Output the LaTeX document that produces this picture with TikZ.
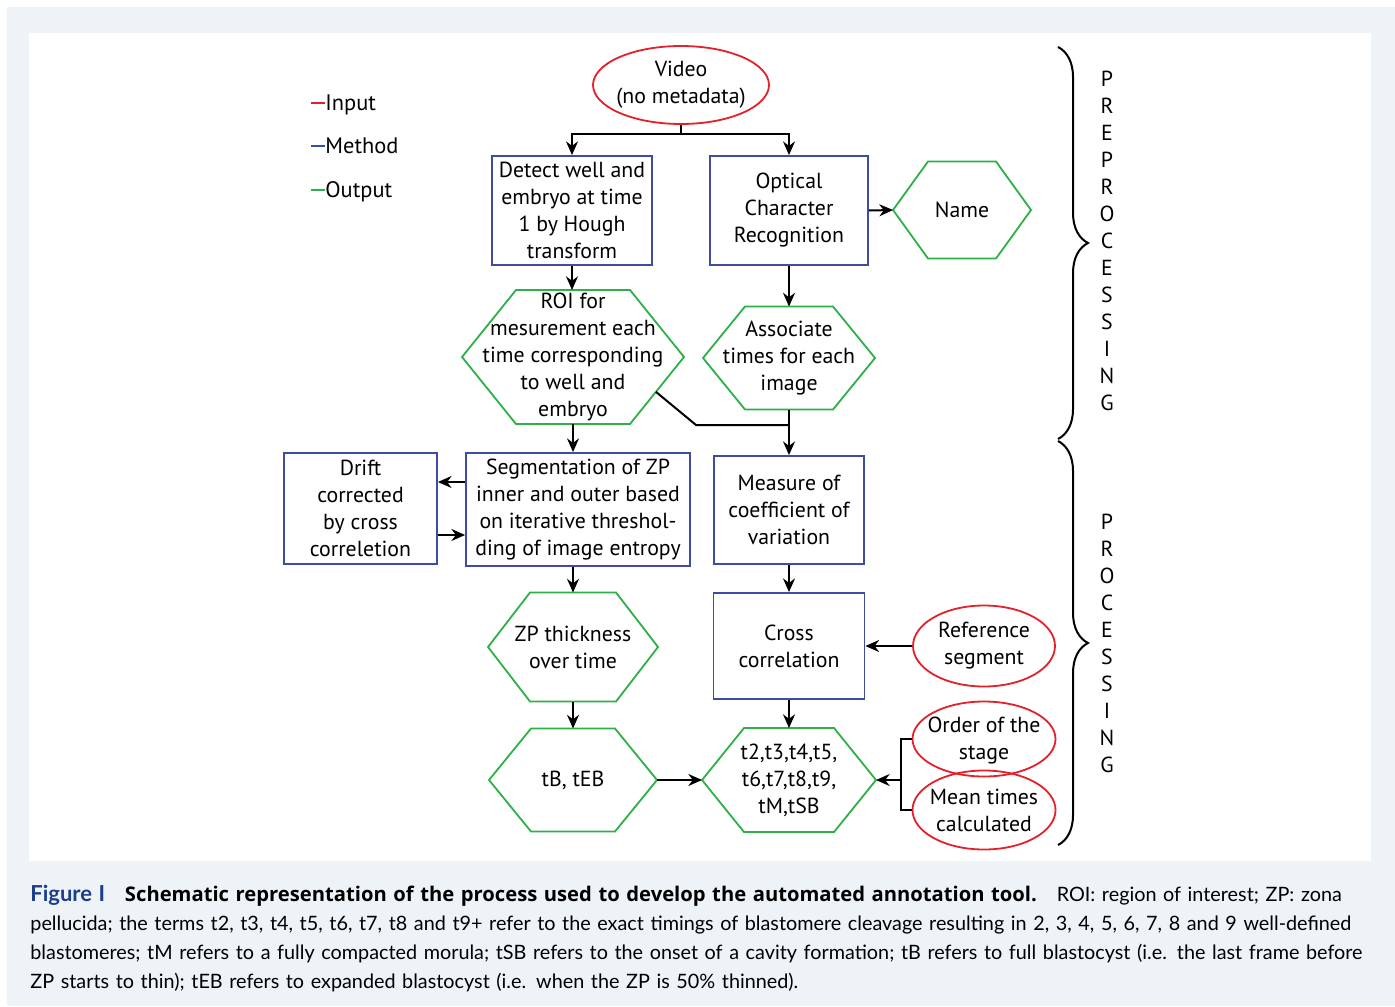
\documentclass[tikz,border=0pt]{standalone}
\usepackage{fontspec}
\setmainfont{PT Sans}
\newfontfamily\capfont{Lato}
\newfontfamily\capboldfont{Open Sans}
\usetikzlibrary{arrows.meta,calc,shapes.geometric,decorations.pathreplacing}
\tikzset{>={Stealth[length=2.4mm,width=2.1mm]}}
\definecolor{incol}{RGB}{228,32,42}
\definecolor{methcol}{RGB}{62,76,164}
\definecolor{outcol}{RGB}{46,176,72}
\definecolor{bgcol}{RGB}{238,243,248}
\definecolor{figblue}{RGB}{28,60,140}
\newcommand{\legdash}[1]{\textcolor{#1}{\rule[0.3em]{7pt}{1.1pt}}}

\begin{document}
\begin{tikzpicture}[x=0.5pt,y=-0.5pt,
  every node/.style={font=\fontsize{10.9}{13.5}\selectfont, align=center, inner sep=0pt},
  input/.style={draw=incol, ellipse, line width=0.9pt, inner xsep=-5pt, inner ysep=0pt},
  method/.style={draw=methcol, rectangle, line width=0.9pt},
  output/.style={rectangle, outer sep=0pt},
  hexline/.style={draw=outcol, line width=0.9pt},
  conn/.style={line width=1pt}]
\useasboundingbox (0,0) rectangle (1395,1006);
\fill[white] (0,0) rectangle (1395,1006);
\fill[bgcol] (7,7) rectangle (1395,1006);
\fill[white] (29,33) rectangle (1371,861);

% legend
\node[anchor=west, font=\fontsize{11.2}{13}\selectfont] (lin) at (311,105) {\legdash{incol}Input};
\node[anchor=west, font=\fontsize{11.2}{13}\selectfont] (lmeth) at (311,146) {\legdash{methcol}Method};
\node[anchor=west, font=\fontsize{11.2}{13}\selectfont] (lout) at (311,192) {\legdash{outcol}Output};

% preprocessing
\node[input, minimum width=88pt, minimum height=39pt] (video) at (681,85) {Video\\(no metadata)};
\node[method, minimum width=80pt, minimum height=54.5pt] (detect) at (572,210.5) {Detect well and\\embryo at time\\1 by Hough\\transform};
\node[method, minimum width=79pt, minimum height=54.5pt] (ocr) at (789,210.5) {Optical\\Character\\Recognition};
\node[output, minimum width=69pt, minimum height=48.5pt] (name) at (962,210) {Name};
\node[output, minimum width=111pt, minimum height=67pt] (roi) at (573,357) {ROI for\\mesurement each\\time corresponding\\to well and\\embryo};
\node[output, minimum width=86pt, minimum height=51.5pt] (assoc) at (789,358) {Associate\\times for each\\image};

% processing
\node[method, minimum width=76.5pt, minimum height=55.5pt] (drift) at (360.5,508.5) {Drift\\corrected\\by cross\\correletion};
\node[method, minimum width=112pt, minimum height=56.5pt] (seg) at (578,509.5) {Segmentation of ZP\\inner and outer based\\on iterative threshol-\\ding of image entropy};
\node[method, minimum width=75pt, minimum height=54pt] (measure) at (789,510) {Measure of\\coefficient of\\variation};
\node[output, minimum width=85pt, minimum height=54.5pt] (zp) at (573,647) {ZP thickness\\over time};
\node[method, minimum width=75.5pt, minimum height=53pt] (cross) at (789,646) {Cross\\correlation};
\node[output, minimum width=84pt, minimum height=51.5pt] (tb) at (573,780) {tB, tEB};
\node[output, minimum width=87pt, minimum height=52pt] (times) at (789,780) {t2,t3,t4,t5,\\t6,t7,t8,t9,\\tM,tSB};
\node[input, minimum width=71pt, minimum height=40.5pt] (ref) at (984,646) {Reference\\segment};
\node[input, minimum width=71.5pt, minimum height=37.5pt] (order) at (984,739) {\\[-4pt]Order of the\\stage};
\node[input, minimum width=71.5pt, minimum height=39.5pt] (mean) at (984,810) {Mean times\\calculated};

% hexagon outlines
\foreach \n/\d in {name/17.5pt, roi/27pt, assoc/21pt, zp/21pt, tb/21pt, times/21pt}
  \draw[hexline] (\n.west) -- ([xshift=\d]\n.north west) -- ([xshift=-\d]\n.north east)
    -- (\n.east) -- ([xshift=-\d]\n.south east) -- ([xshift=\d]\n.south west) -- cycle;

% connectors
\coordinate (split) at (681,134);
\draw[conn] (video.south) -- (split);
\draw[conn,->] (split) -| (detect.north);
\draw[conn,->] (split) -| (ocr.north);
\draw[conn,->] (ocr.east) -- (name.west);
\draw[conn,->] (detect.south) -- (detect.south |- roi.north);
\draw[conn,->] (ocr.south) -- (assoc.north);
\coordinate (roiedge) at ($(roi.east)!0.52!([xshift=-27pt]roi.south east)$);
\coordinate (bend) at (696,425);
\draw[conn] (roiedge) -- (bend) -- (bend -| assoc.south);
\draw[conn,->] (assoc.south) -- (measure.north);
\draw[conn,->] (roi.south) -- (roi.south |- seg.north);
\draw[conn,->] ([yshift=13.75pt]seg.west) -- ([yshift=13.75pt]seg.west -| drift.east);
\draw[conn,->] ([yshift=-13.25pt]drift.east) -- ([yshift=-13.25pt]drift.east -| seg.west);
\draw[conn,->] (seg.south -| zp.north) -- (zp.north);
\draw[conn,->] (measure.south) -- (cross.north);
\draw[conn,->] (zp.south) -- (tb.north);
\draw[conn,->] (cross.south) -- (times.north);
\draw[conn,->] (tb.east) -- (times.west);
\draw[conn,->] (ref.west) -- (ref.west -| cross.east);
\coordinate (fork) at (901,780);
\draw[conn] (order.west) -| (fork) |- (mean.west);
\draw[conn,->] (fork) -- (times.east);

% braces
\draw[line width=1pt, decorate, decoration={brace, amplitude=15pt}] (1058,47) -- (1058,439);
\draw[line width=1pt, decorate, decoration={brace, amplitude=15pt}] (1058,441) -- (1058,845);
\node (pre) at (1107,241) {P\\R\\E\\P\\R\\O\\C\\E\\S\\S\\I\\N\\G};
\node (proc) at (1107,643.5) {P\\R\\O\\C\\E\\S\\S\\I\\N\\G};

% caption
\node[anchor=north west, font=\capfont\fontsize{9.9}{14.5}\selectfont, align=left, text width=670pt] (caption) at (30,885) {%
\makebox[670pt][s]{{\color{figblue}\bfseries\fontsize{11}{14.5}\selectfont Figure I}\quad{\capboldfont\bfseries\fontsize{10.1}{14.5}\selectfont Schematic representation of the process used to develop the automated annotation tool.}\quad ROI: region of interest; ZP: zona}\\
\makebox[670pt][s]{pellucida; the terms t2, t3, t4, t5, t6, t7, t8 and t9+ refer to the exact timings of blastomere cleavage resulting in 2, 3, 4, 5, 6, 7, 8 and 9 well-defined}\\
\makebox[670pt][s]{blastomeres; tM refers to a fully compacted morula; tSB refers to the onset of a cavity formation; tB refers to full blastocyst (i.e. the last frame before}\\
ZP starts to thin); tEB refers to expanded blastocyst (i.e. when the ZP is 50\% thinned).};
\end{tikzpicture}
\end{document}
